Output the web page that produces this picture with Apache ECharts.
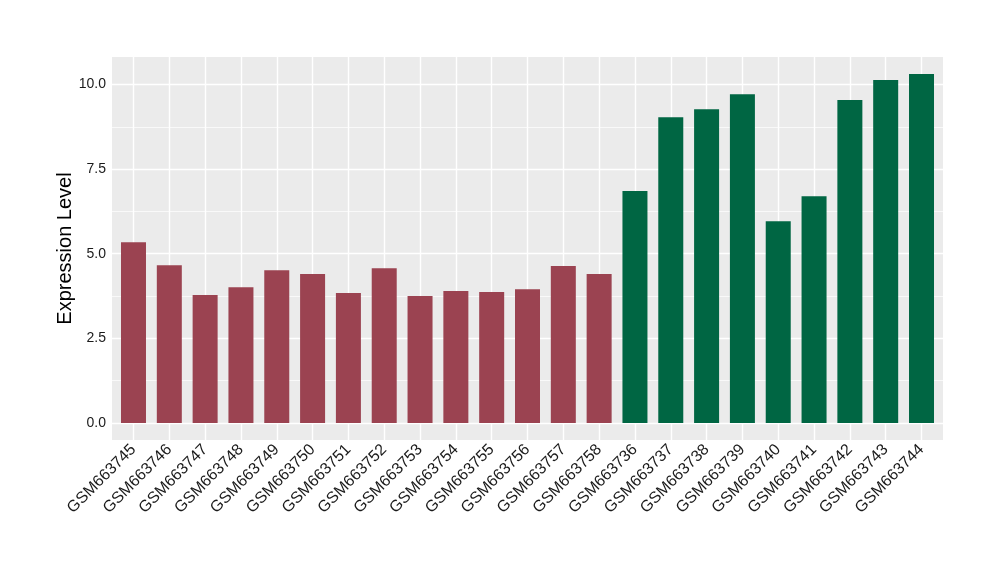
<!DOCTYPE html>
<html><head><meta charset="utf-8">
<script src="https://cdn.jsdelivr.net/npm/echarts@6/dist/echarts.min.js"></script>
<style>html,body{margin:0;padding:0;background:#fff}#c{width:1000px;height:580px}</style>
</head><body><div id="c"></div>
<script>
const categories = ["GSM663745","GSM663746","GSM663747","GSM663748","GSM663749","GSM663750","GSM663751","GSM663752","GSM663753","GSM663754","GSM663755","GSM663756","GSM663757","GSM663758","GSM663736","GSM663737","GSM663738","GSM663739","GSM663740","GSM663741","GSM663742","GSM663743","GSM663744"];
const values = [5.34,4.66,3.78,4.01,4.51,4.40,3.84,4.57,3.75,3.90,3.87,3.95,4.64,4.40,6.85,9.03,9.27,9.71,5.96,6.70,9.54,10.13,10.31];
const groups = ["a","a","a","a","a","a","a","a","a","a","a","a","a","a","b","b","b","b","b","b","b","b","b"];
const groupColors = {a:"#9B4351", b:"#006643"};
const yMajor = [0, 2.5, 5, 7.5, 10];
const yMinor = [1.25, 3.75, 6.25, 8.75];

const idx = categories.map((_, i) => i);
const font = "Liberation Sans, Arial, sans-serif";
const chart = echarts.init(document.getElementById('c'), null, {renderer:'canvas'});
chart.setOption({
  animation:false,
  backgroundColor:'#fff',
  grid:{left:112, right:57, top:57, bottom:140, show:true, backgroundColor:'#EBEBEB', borderWidth:0},
  xAxis:{type:'value', min:-0.6, max:categories.length-1+0.6,
    axisLine:{show:false}, splitLine:{show:false},
    axisTick:{show:true, customValues:idx, length:4, lineStyle:{color:'#333', width:1}},
    axisLabel:{customValues:idx, rotate:45, margin:7, fontSize:16, color:'#1a1a1a', fontFamily:font,
      formatter:v=>categories[Math.round(v)]}},
  yAxis:{type:'value', min:-0.5, max:10.81,
    axisLine:{show:false}, splitLine:{show:false},
    axisTick:{show:true, customValues:yMajor, length:4, lineStyle:{color:'#333', width:1}},
    axisLabel:{customValues:yMajor, margin:6, fontSize:14, color:'#1a1a1a', fontFamily:font,
      formatter:v=>v.toFixed(1)},
    name:'Expression Level', nameLocation:'middle', nameGap:37, nameMoveOverlap:false,
    nameTextStyle:{fontSize:20, color:'#000', fontFamily:font}},
  series:[
    {type:'line', data:[], z:1, silent:true,
     markLine:{silent:true, z:1, symbol:'none', label:{show:false}, animation:false,
       data:[
         ...yMinor.map(v=>({yAxis:v, lineStyle:{color:'#fff', width:0.7, type:'solid'}})),
         ...yMajor.map(v=>({yAxis:v, lineStyle:{color:'#fff', width:1.4, type:'solid'}})),
         ...idx.map(i=>({xAxis:i, lineStyle:{color:'#fff', width:1.4, type:'solid'}}))
       ]}},
    {type:'bar', z:3, barWidth:25,
     data: values.map((v,i)=>({value:[i, v], itemStyle:{color:groupColors[groups[i]]}}))}
  ]
});
</script></body></html>
